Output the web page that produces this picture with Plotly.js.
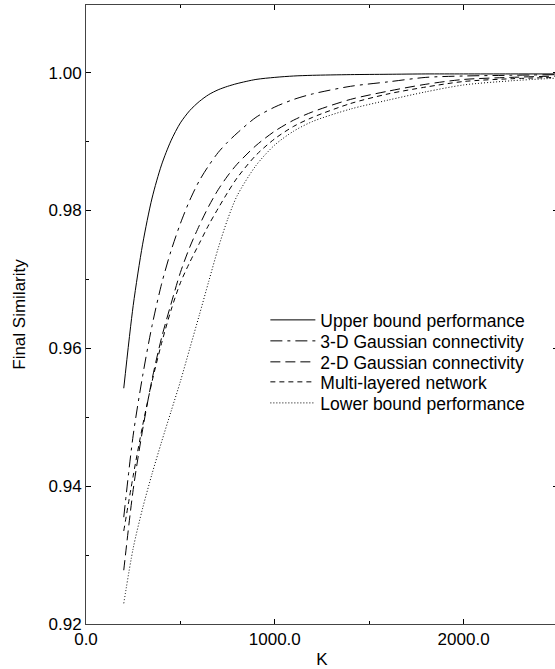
<!DOCTYPE html>
<html>
<head>
<meta charset="utf-8">
<script src="https://cdn.plot.ly/plotly-3.0.1.min.js"></script>
<style>
html,body{margin:0;padding:0;overflow:hidden;background:#fff;}
#chart{width:560px;height:669px;}
</style>
</head>
<body>
<div id="chart"></div>
<script>
// Data
var K = [200, 250, 300, 350, 400, 450, 500, 550, 600, 650, 700, 750, 800, 900, 1000, 1100, 1200, 1400, 1600, 1800, 2000, 2250, 2500];

var upperBound = [0.9542, 0.9662, 0.9751, 0.9818, 0.9866, 0.9901, 0.9927, 0.9945, 0.9958, 0.9968, 0.9975, 0.9980, 0.9984, 0.9990, 0.9993, 0.9995, 0.9996, 0.9997, 0.99975, 0.9998, 0.9998, 0.9998, 0.9998];
var gauss3D = [0.9355, 0.9474, 0.9560, 0.9633, 0.9693, 0.9741, 0.9781, 0.9815, 0.9843, 0.9865, 0.9884, 0.9899, 0.9912, 0.9935, 0.9950, 0.9961, 0.9969, 0.9980, 0.99865, 0.9993, 0.9995, 0.9996, 0.9997];
var gauss2D = [0.9278, 0.9395, 0.9482, 0.9555, 0.9615, 0.9664, 0.9710, 0.9747, 0.9778, 0.9806, 0.9830, 0.9850, 0.9867, 0.9894, 0.9915, 0.9931, 0.9943, 0.9961, 0.9973, 0.9983, 0.9990, 0.9993, 0.9995];
var multiLayer = [0.9335, 0.9415, 0.9488, 0.9552, 0.9607, 0.9655, 0.9695, 0.9725, 0.9752, 0.9779, 0.9803, 0.9826, 0.9847, 0.9880, 0.9904, 0.9922, 0.9935, 0.9955, 0.9969, 0.9979, 0.9987, 0.9991, 0.9993];
var lowerBound = [0.9230, 0.9310, 0.9368, 0.9418, 0.9464, 0.9508, 0.9552, 0.9600, 0.9648, 0.9697, 0.9745, 0.9787, 0.9821, 0.9865, 0.9895, 0.9915, 0.9929, 0.9947, 0.9960, 0.9972, 0.9982, 0.9988, 0.9992];

var seriesNames = ["Upper bound performance", "3-D Gaussian connectivity", "2-D Gaussian connectivity", "Multi-layered network", "Lower bound performance"];
var xTickVals = [0, 1000, 2000];
var xTickText = ["0.0", "1000.0", "2000.0"];
var yTickVals = [0.92, 0.94, 0.96, 0.98, 1.00];
var yTickText = ["0.92", "0.94", "0.96", "0.98", "1.00"];

var seriesValues = [upperBound, gauss3D, gauss2D, multiLayer, lowerBound];
var dashes = ["solid", "12px,5px,3px,5px", "10px,5px", "5px,4px", "1px,2px"];
var legendIds = ["legend", "legend2", "legend3", "legend4", "legend5"];
var legendRowY = [0.4911, 0.4572, 0.4233, 0.3910, 0.3570];

var traces = seriesValues.map(function (vals, i) {
  return {
    x: K,
    y: vals,
    name: seriesNames[i],
    legend: legendIds[i],
    type: "scatter",
    mode: "lines",
    line: {color: "#000", width: 1, dash: dashes[i], shape: "spline", smoothing: 0.8}
  };
});

var font = {family: "'Liberation Sans', Arial, Helvetica, sans-serif", size: 17, color: "#000"};
var legendFont = {family: "'Liberation Sans', Arial, Helvetica, sans-serif", size: 17.5, color: "#000"};

var layout = {
  width: 560,
  height: 669,
  margin: {l: 86, r: 2, t: 5, b: 45},
  paper_bgcolor: "#fff",
  plot_bgcolor: "#fff",
  font: font,
  showlegend: true,
  xaxis: {
    range: [0, 2500],
    tickmode: "array", tickvals: xTickVals, ticktext: xTickText,
    ticks: "inside", ticklen: 5, tickwidth: 1, tickcolor: "#000",
    minor: {dtick: 500, ticks: "inside", ticklen: 3, tickcolor: "#000"},
    showline: true, linecolor: "#444", linewidth: 1, mirror: "ticks",
    showgrid: false, zeroline: false,
    title: {text: "K", font: font, standoff: 6}
  },
  yaxis: {
    range: [0.92, 1.0098],
    tickmode: "array", tickvals: yTickVals, ticktext: yTickText,
    ticks: "inside", ticklen: 5, tickwidth: 1, tickcolor: "#000",
    minor: {dtick: 0.01, tick0: 0.92, ticks: "inside", ticklen: 3, tickcolor: "#000"},
    showline: true, linecolor: "#444", linewidth: 1, mirror: "ticks",
    showgrid: false, zeroline: false,
    title: {text: "Final Similarity", font: font, standoff: 18}
  }
};

legendIds.forEach(function (id, i) {
  layout[id] = {
    x: 0.38, y: legendRowY[i], xanchor: "left", yanchor: "middle",
    bgcolor: "rgba(0,0,0,0)", borderwidth: 0,
    font: legendFont, itemwidth: 45
  };
});

Plotly.newPlot("chart", traces, layout, {displayModeBar: false, staticPlot: true});
</script>
</body>
</html>
